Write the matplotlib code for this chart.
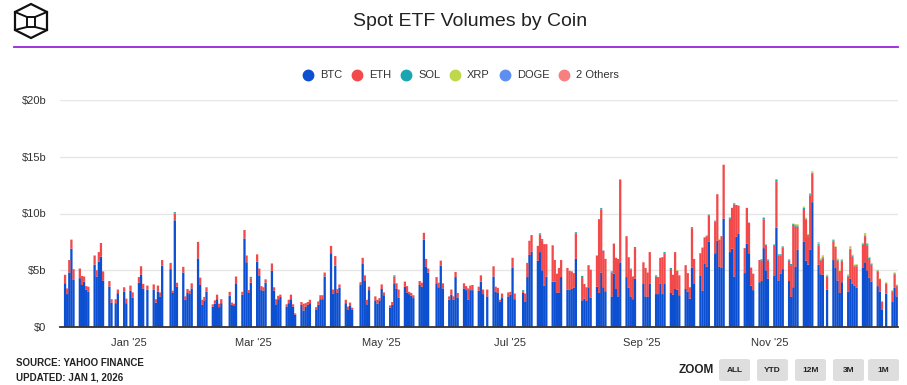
import numpy as np
import pandas as pd
import matplotlib
matplotlib.use("Agg")
import matplotlib.pyplot as plt
from matplotlib.patches import FancyBboxPatch, Polygon
from matplotlib.lines import Line2D

plt.rcParams['font.family'] = ['Liberation Sans', 'DejaVu Sans']

# ---------------- data ----------------
start_date = '2024-12-02'
end_date = '2025-12-31'
holidays = ['2024-12-25', '2025-01-01', '2025-01-09', '2025-01-20', '2025-02-17',
            '2025-04-18', '2025-05-26', '2025-06-19', '2025-07-04', '2025-09-01',
            '2025-11-27', '2025-12-25']

# BTC daily volume ($b), week by week
btc_weeks = [
    [3.86, 2.9, 4.8, 6.9, 4.15], [4.3, 3.7, 4.0, 3.3, 3.1], [5.5, 4.45, 5.75, 6.2, 4.1],
    [3.57, 2.16, 2.1, 2.98], [3.1, 2.1, 3.2, 2.6], [3.9, 4.6, 3.4, 3.3],
    [3.3, 2.15, 3.1, 2.7, 5.4], [5.1, 3.0, 9.4, 3.55], [4.8, 2.4, 3.0, 2.9, 3.4],
    [6.05, 3.7, 1.95, 2.35, 3.1], [1.8, 2.05, 2.45, 1.75, 2.1], [2.75, 1.95, 1.85, 3.85],
    [2.85, 7.8, 5.7, 3.0, 3.9], [5.75, 4.55, 3.25, 3.2, 3.9], [4.95, 3.2, 2.0, 2.45, 2.65],
    [1.8, 2.1, 2.45, 1.8, 1.1], [1.95, 1.45, 1.8, 1.95, 2.1], [1.5, 1.95, 2.45, 2.45, 4.45],
    [6.5, 2.95, 5.4, 3.0, 3.45], [2.1, 1.5, 1.85, 1.5], [3.75, 5.55, 4.05, 2.0, 3.25],
    [2.35, 2.05, 2.35, 3.35, 2.8], [1.72, 1.95, 3.85, 3.35, 2.6], [3.55, 3.05, 2.9, 2.75, 2.55],
    [3.7, 3.55, 7.7, 5.3, 4.8], [3.85, 3.5, 5.4, 3.4], [2.4, 2.85, 2.4, 4.4, 2.6],
    [3.4, 3.25, 2.4, 3.25, 3.25], [3.2, 4.0, 2.9, 2.7], [4.45, 3.1, 3.0, 2.25, 2.55],
    [2.7, 2.85, 5.2, 2.45], [3.0, 2.25, 4.4, 6.35, 6.65], [5.85, 6.6, 5.0, 3.65, 4.45],
    [4.0, 4.0, 3.05, 3.0, 4.4], [3.3, 3.3, 3.35, 3.45, 6.0], [2.35, 2.5, 2.3, 3.5, 2.6],
    [3.55, 3.0, 4.8, 3.5, 3.15], [2.7, 4.7, 3.35, 2.7, 5.7], [4.4, 3.45, 2.7, 2.45, 4.25],
    [3.85, 2.7, 2.65, 3.8], [2.9, 2.9, 3.8, 2.9, 3.85], [3.0, 2.85, 3.35, 3.3, 2.8],
    [3.35, 3.1, 2.5, 5.25, 3.85], [4.55, 3.2, 5.55, 5.3, 7.5], [6.5, 7.6, 5.3, 5.2, 9.55],
    [6.6, 6.9, 4.45, 7.95, 8.2], [4.75, 7.35, 6.5, 3.65, 3.25], [3.95, 4.05, 6.95, 5.0, 4.25],
    [4.55, 8.75, 4.1, 4.7, 5.1], [4.05, 2.65, 3.5, 5.3, 6.8], [7.5, 5.85, 5.5, 6.8, 11.0],
    [5.5, 4.65, 4.6, 3.3], [5.9, 5.2, 4.1, 3.0, 3.95], [3.1, 4.25, 3.8, 3.65, 3.45],
    [5.2, 5.7, 5.0, 4.35, 4.0], [3.6, 3.1, 1.5, 2.95], [2.2, 3.45, 2.7],
]

# ETH daily volume ($b), week by week
eth_weeks = [
    [0.74, 0.5, 1.1, 0.8, 0.95], [0.85, 0.8, 0.45, 0.3, 0.45], [0.8, 0.55, 0.85, 1.2, 0.8],
    [0.48, 0.29, 0.35, 0.32], [0.4, 0.4, 0.45, 0.45], [0.5, 0.75, 0.4, 0.35],
    [0.45, 0.3, 0.55, 0.35, 0.5], [0.45, 0.2, 0.6, 0.35], [0.5, 0.3, 0.35, 0.3, 0.45],
    [1.45, 0.65, 0.45, 0.3, 0.4], [0.2, 0.3, 0.4, 0.3, 0.35], [0.35, 0.2, 0.2, 0.6],
    [0.25, 0.75, 0.6, 0.25, 0.4], [0.65, 0.6, 0.35, 0.3, 0.3], [0.65, 0.3, 0.45, 0.3, 0.2],
    [0.2, 0.3, 0.4, 0.2, 0.1], [0.25, 0.6, 0.3, 0.25, 0.3], [0.25, 0.3, 0.35, 0.35, 0.35],
    [0.65, 0.35, 0.85, 0.35, 0.3], [0.3, 0.3, 0.3, 0.2], [0.2, 0.55, 0.5, 0.4, 0.3],
    [0.35, 0.35, 0.2, 0.4, 0.25], [0.18, 0.25, 0.6, 0.5, 0.7], [0.45, 0.55, 0.2, 0.25, 0.25],
    [0.35, 0.35, 0.6, 0.7, 0.35], [0.55, 0.4, 0.45, 0.45], [0.3, 0.45, 0.3, 0.45, 0.4],
    [0.45, 0.35, 1.0, 0.4, 0.45], [0.35, 0.55, 0.4, 0.6], [0.9, 0.45, 0.45, 0.15, 0.4],
    [0.35, 0.25, 0.9, 0.5], [0.15, 0.7, 1.25, 1.25, 1.45], [1.3, 1.55, 2.65, 3.65, 2.85],
    [3.2, 1.9, 1.65, 2.2, 1.5], [1.9, 1.65, 1.55, 1.3, 2.25], [2.05, 1.3, 1.2, 1.95, 2.45],
    [2.75, 6.5, 5.55, 3.2, 2.85], [2.1, 2.65, 2.75, 3.3, 7.3], [3.6, 2.7, 2.35, 2.0, 2.7],
    [1.85, 2.5, 2.15, 2.8], [1.55, 1.5, 2.3, 3.25, 2.65], [2.1, 1.75, 3.25, 1.65, 1.75],
    [2.1, 1.65, 1.0, 3.45, 2.15], [1.95, 3.8, 2.35, 2.7, 2.3], [2.8, 4.1, 2.4, 2.8, 4.75],
    [2.95, 3.6, 6.35, 2.8, 2.5], [2.2, 3.15, 2.7, 1.55, 1.45], [1.95, 1.8, 2.5, 2.15, 1.6],
    [2.6, 4.1, 2.2, 1.6, 1.9], [1.8, 2.8, 5.5, 3.55, 2.05], [2.9, 3.6, 2.5, 4.8, 2.5],
    [1.7, 1.2, 1.45, 1.15], [1.65, 1.75, 1.75, 1.85, 1.85], [1.35, 2.55, 2.4, 1.7, 1.9],
    [2.05, 2.3, 2.2, 1.65, 1.5], [1.3, 1.05, 0.7, 0.85], [0.95, 1.2, 0.9],
]

# SOL: scattered early days, then daily from the Oct 28 launches
sol_early_dates = ['2025-01-21', '2025-01-23', '2025-02-28', '2025-05-07', '2025-07-07',
                   '2025-07-15', '2025-07-16', '2025-08-01', '2025-08-04', '2025-08-13',
                   '2025-08-18', '2025-08-27', '2025-08-29', '2025-09-08', '2025-09-12',
                   '2025-09-15', '2025-09-25', '2025-10-03', '2025-10-13', '2025-10-15']
sol_early_vals = [0.1, 0.12, 0.12, 0.1, 0.1, 0.1, 0.1, 0.1, 0.1, 0.12,
                  0.1, 0.1, 0.1, 0.1, 0.1, 0.1, 0.1, 0.1, 0.1, 0.1]
sol_daily_start = '2025-10-28'
sol_daily = [0.12, 0.15, 0.12, 0.1, 0.12, 0.15, 0.1, 0.1, 0.1, 0.1, 0.1, 0.1, 0.12, 0.1,
             0.12, 0.1, 0.12, 0.1, 0.1, 0.1, 0.1, 0.1, 0.08, 0.1, 0.1, 0.1, 0.08, 0.08,
             0.1, 0.08, 0.1, 0.08, 0.1, 0.1, 0.08, 0.1, 0.1, 0.08, 0.08, 0.08, 0.05, 0.06,
             0.06, 0.08, 0.08]

# XRP
xrp_early_dates = ['2025-09-18', '2025-10-08', '2025-10-23', '2025-10-29']
xrp_early_vals = [0.08, 0.08, 0.08, 0.08]
xrp_daily_start = '2025-11-13'
xrp_daily = [0.1, 0.1, 0.1, 0.1, 0.1, 0.1, 0.12, 0.12, 0.1, 0.1, 0.08, 0.08, 0.08, 0.08,
             0.08, 0.1, 0.08, 0.1, 0.08, 0.08, 0.08, 0.08, 0.12, 0.1, 0.08, 0.06, 0.06,
             0.05, 0.05, 0.08, 0.05, 0.08, 0.06]

# DOGE and 2 others
doge_dates = ['2025-08-14', '2025-10-02', '2025-10-06', '2025-11-24', '2025-12-09']
doge_vals = [0.05, 0.06, 0.08, 0.04, 0.04]
others_dates = ['2025-12-09', '2025-12-16', '2025-11-26']
others_vals = [0.08, 0.06, 0.05]

series_names = ['BTC', 'ETH', 'SOL', 'XRP', 'DOGE', '2 Others']
series_colors = ['#0c4fd0', '#f24a4a', '#19a5b2', '#bfd84a', '#5c8ff0', '#f87f7f']

tick_dates = ['2025-01-01', '2025-03-01', '2025-05-01', '2025-07-01', '2025-09-01', '2025-11-01']
tick_labels = ["Jan '25", "Mar '25", "May '25", "Jul '25", "Sep '25", "Nov '25"]
y_ticks = [0, 5, 10, 15, 20]
y_labels = ['$0', '$5b', '$10b', '$15b', '$20b']

# ---------------- build series ----------------
dates = pd.bdate_range(start_date, end_date)
dates = dates[~dates.isin(pd.to_datetime(holidays))]
btc = np.array([v for w in btc_weeks for v in w])
eth = np.array([v for w in eth_weeks for v in w])
assert len(btc) == len(dates) == len(eth), (len(btc), len(eth), len(dates))
n = len(dates)
idx = {d: i for i, d in enumerate(dates)}

def sparse(ds, vs, daily_start=None, daily=None):
    arr = np.zeros(n)
    for d, v in zip(ds, vs):
        arr[idx[pd.Timestamp(d)]] += v
    if daily_start is not None:
        i0 = idx[pd.Timestamp(daily_start)]
        arr[i0:i0 + len(daily)] += np.array(daily)
    return arr

sol = sparse(sol_early_dates, sol_early_vals, sol_daily_start, sol_daily)
xrp = sparse(xrp_early_dates, xrp_early_vals, xrp_daily_start, xrp_daily)
doge = sparse(doge_dates, doge_vals)
others = sparse(others_dates, others_vals)

origin = pd.Timestamp('2025-01-01')
x = np.array([(d - origin).days for d in dates], dtype=float)

# ---------------- figure ----------------
W, H = 907, 385
fig = plt.figure(figsize=(W / 100, H / 100), dpi=100)
fx = lambda px: px / W
fy = lambda py: 1 - py / H

ax = fig.add_axes([fx(60), fy(327), fx(898) - fx(60), fy(100) - fy(327)])

bottom = np.zeros(n)
for vals, col in zip([btc, eth, sol, xrp, doge, others], series_colors):
    bars = ax.bar(x, vals, bottom=bottom, width=1.08, color=col, linewidth=0, zorder=3)
    for b in bars:
        b.set_snap(False)
    bottom = bottom + vals

ax.set_xlim(-32.4, 364.6)
ax.set_ylim(0, 20)
ax.set_yticks(y_ticks)
ax.set_yticklabels(y_labels, fontsize=8, color='#333333')
ax.set_xticks([(pd.Timestamp(d) - origin).days for d in tick_dates])
ax.set_xticklabels(tick_labels, fontsize=8, color='#333333')
ax.tick_params(axis='both', length=0)
ax.tick_params(axis='y', pad=10)
ax.tick_params(axis='x', pad=8)
ax.grid(axis='y', color='#e6e6e6', linewidth=1, zorder=0)
for s in ['left', 'right', 'top']:
    ax.spines[s].set_visible(False)
ax.spines['bottom'].set_color('#333333')
ax.spines['bottom'].set_linewidth(1.3)
ax.spines['bottom'].set_zorder(5)

# title and rule
fig.text(fx(470), fy(22), 'Spot ETF Volumes by Coin', ha='center', va='center',
         fontsize=14, color='#222222')
fig.add_artist(Line2D([fx(14), fx(898)], [fy(47), fy(47)], color='#9b22d8', lw=1.3))

# logo (cube outline)
lc = '#111111'
outer = [(31, 4), (47, 12), (47, 30), (31, 38), (15, 30), (15, 12)]
fig.add_artist(Polygon([(fx(a), fy(b)) for a, b in outer], closed=True, fill=False,
                       edgecolor=lc, lw=1.6))
inner = [(27, 17), (35, 17), (35, 27), (27, 27)]
fig.add_artist(Polygon([(fx(a), fy(b)) for a, b in inner], closed=True, fill=False,
                       edgecolor=lc, lw=1.4))
for (a1, b1), (a2, b2) in [((15, 12), (27, 17)), ((47, 12), (35, 17)),
                           ((15, 30), (27, 27)), ((47, 30), (35, 27))]:
    fig.add_artist(Line2D([fx(a1), fx(a2)], [fy(b1), fy(b2)], color=lc, lw=1.4))

# legend
leg_marker_x = [308, 357, 406, 455, 505, 564]
for mx, name, col in zip(leg_marker_x, series_names, series_colors):
    fig.add_artist(Line2D([fx(mx)], [fy(75)], marker='o', markersize=7.5,
                          color=col, linestyle='none'))
    fig.text(fx(mx + 12), fy(75), name, ha='left', va='center', fontsize=8, color='#333333')

# footer
fig.text(fx(16), fy(363), 'SOURCE: YAHOO FINANCE', ha='left', va='center',
         fontsize=7, fontweight='bold', color='#222222')
fig.text(fx(16), fy(377), 'UPDATED: JAN 1, 2026', ha='left', va='center',
         fontsize=7, fontweight='bold', color='#222222')
fig.text(fx(696), fy(370), 'ZOOM', ha='center', va='center', fontsize=8.5,
         fontweight='bold', color='#222222')
btn_labels = ['ALL', 'YTD', '12M', '3M', '1M']
btn_x = [719, 757, 795, 833, 868]
for bx, lab in zip(btn_x, btn_labels):
    fig.add_artist(FancyBboxPatch((fx(bx), fy(381)), fx(31), fy(359) - fy(381),
                                  boxstyle='round,pad=0,rounding_size=0.004',
                                  facecolor='#dedede', edgecolor='none'))
    fig.text(fx(bx + 15.5), fy(371), lab, ha='center', va='center', fontsize=6,
             fontweight='bold', color='#222222')

fig.savefig('out.png', dpi=100)
